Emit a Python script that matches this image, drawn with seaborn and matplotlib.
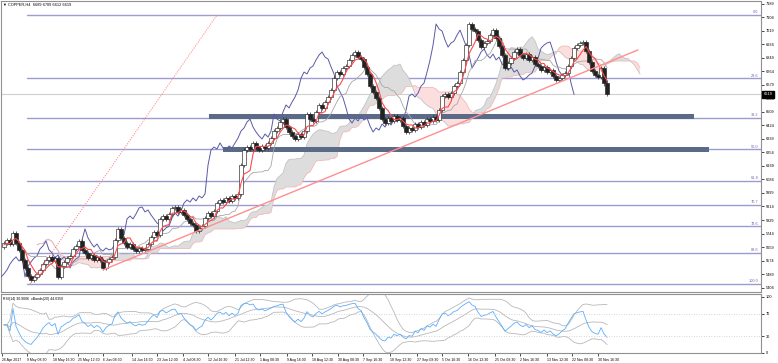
import numpy as np
import pandas as pd
import matplotlib
matplotlib.use("Agg")
import matplotlib.pyplot as plt
import matplotlib.transforms as mtransforms
from matplotlib.patches import Rectangle
import seaborn as sns

sns.set_theme(style="white")
plt.rcParams["font.family"] = ["Liberation Sans", "DejaVu Sans"]

# ---------------- data ----------------
symbol = "COPPER,H4"
last_ohlc = [6689, 6709, 6612, 6619]
first_open = 5660
closes = [
    5685, 5703, 5678, 5747, 5685, 5641, 5578, 5527, 5477, 5452,
    5471, 5490, 5515, 5552, 5578, 5597, 5571, 5590, 5471, 5540,
    5565, 5590, 5603, 5647, 5666, 5697, 5641, 5622, 5590, 5609,
    5578, 5597, 5578, 5527, 5565, 5584, 5597, 5703, 5773, 5716,
    5685, 5659, 5678, 5647, 5634, 5653, 5641, 5647, 5678, 5722,
    5754, 5735, 5836, 5854, 5836, 5867, 5905, 5911, 5880, 5892,
    5861, 5836, 5810, 5798, 5760, 5779, 5791, 5842, 5873, 5854,
    5886, 5936, 5955, 5942, 5968, 5949, 5980, 5968, 5993, 6175,
    6270, 6288, 6276, 6314, 6282, 6270, 6295, 6282, 6314, 6345,
    6389, 6408, 6446, 6464, 6414, 6383, 6358, 6339, 6370, 6351,
    6389, 6496, 6464, 6452, 6509, 6553, 6534, 6571, 6603, 6647,
    6722, 6760, 6748, 6785, 6798, 6836, 6867, 6886, 6854, 6842,
    6792, 6748, 6672, 6634, 6597, 6534, 6464, 6439, 6471, 6452,
    6483, 6458, 6471, 6420, 6383, 6408, 6395, 6433, 6414, 6446,
    6427, 6464, 6452, 6477, 6458, 6521, 6609, 6622, 6603, 6628,
    6672, 6691, 6760, 6836, 6930, 7062, 7031, 7018, 6961, 6917,
    6943, 6955, 6993, 7024, 6974, 6924, 6867, 6785, 6817, 6848,
    6886, 6905, 6867, 6848, 6873, 6836, 6854, 6810, 6798, 6773,
    6792, 6760, 6773, 6735, 6710, 6722, 6741, 6754, 6798, 6848,
    6911, 6930, 6943, 6949, 6892, 6823, 6766, 6741, 6729, 6785,
    6689, 6619,
]
wick = 14

price_ticks = [7189, 7104, 7019, 6934, 6849, 6764, 6679, 6594, 6509, 6424, 6339,
               6254, 6169, 6084, 5999, 5914, 5829, 5744, 5659, 5574, 5489, 5404]

fib_ratios = [0.0, 23.6, 38.2, 50.0, 61.8, 70.7, 78.6, 88.6, 100.0]
fib_high, fib_low = 7119, 5427
fib_start_bar = 7.7

zone_levels = [6483, 6270]
zone_start = [68.3, 73.0]
zone_end = [230.0, 235.0]

trend_bars = [33.0, 211.3]
trend_prices = [5515, 6899]
anchor_bars = [8.7, 71.0]
anchor_prices = [5427, 7119]

date_labels = ["26 Apr 2017", "9 May 08:30", "18 May 16:30", "25 May 12:30", "6 Jun 08:30",
               "14 Jun 16:30", "23 Jun 12:30", "4 Jul 08:30", "12 Jul 16:30", "21 Jul 12:30",
               "1 Aug 08:30", "9 Aug 16:30", "18 Aug 12:30", "30 Aug 08:30", "7 Sep 16:30",
               "18 Sep 12:30", "27 Sep 08:30", "5 Oct 16:30", "16 Oct 12:30", "25 Oct 08:30",
               "2 Nov 16:30", "13 Nov 12:30", "22 Nov 08:30", "30 Nov 16:30"]
date_bars = [-0.7, 7.7, 16.3, 24.7, 33.0, 42.7, 51.0, 59.7, 68.0, 77.0, 85.3, 94.3,
             102.7, 111.3, 119.7, 128.7, 137.7, 146.0, 154.7, 163.7, 172.0, 181.0, 189.3, 198.0]

rsi_ticks = [100, 70, 30, 0]
rsi_levels = [70, 30]
rsi_text = "RSI(14) 30.9006  xBands(20) 44.0350"

# ---------------- derived series ----------------
c = np.array(closes, float)
n = len(c)
idx = np.arange(n)
o = np.r_[first_open, c[:-1]]
hi = np.maximum(o, c) + wick
lo = np.minimum(o, c) - wick
hi[-1] = last_ohlc[1]
lo[-1] = last_ohlc[2]

Hs, Ls = pd.Series(hi), pd.Series(lo)
def mid(p):
    return (Hs.rolling(p, min_periods=1).max() + Ls.rolling(p, min_periods=1).min()) / 2
tenkan = mid(4)
kijun = mid(11)
shift = 11
spanA = ((tenkan + kijun) / 2).values
spanB = mid(22).values
xcloud = idx + shift

delta = np.diff(c, prepend=c[0])
gain = pd.Series(np.clip(delta, 0, None))
loss = pd.Series(np.clip(-delta, 0, None))
ag = gain.ewm(alpha=1 / 9, adjust=False).mean()
al = loss.ewm(alpha=1 / 9, adjust=False).mean()
rsi = (100 - 100 / (1 + ag / al.replace(0, np.nan))).fillna(50)
bmid = rsi.rolling(12, min_periods=1).mean()
bsd = rsi.rolling(12, min_periods=2).std().bfill()
bup = bmid + 2 * bsd
blo = bmid - 2 * bsd

# ---------------- figure ----------------
W, H = 778, 363
FS = 2.8
fig = plt.figure(figsize=(W / 100, H / 100), dpi=100)
def fr(x0, yt, x1, yb):
    return [x0 / W, 1 - yb / H, (x1 - x0) / W, (yb - yt) / H]
ax = fig.add_axes(fr(1, 1, 761, 292))
axr = fig.add_axes(fr(1, 294, 761, 353), sharex=ax)

xmin, xmax = -1.0, 252.3
ax.set_xlim(xmin, xmax)
ax.set_ylim(5376, 7207)

# fib levels
for r in fib_ratios:
    lvl = fib_high - r / 100 * (fib_high - fib_low)
    ax.plot([fib_start_bar, xmax], [lvl, lvl], color="#9c9cd0", lw=1.0, zorder=1)
    ax.text(251.4, lvl + 5, f"{r:.1f}", ha="right", va="bottom", fontsize=FS,
            color="#6a6ab0", zorder=6)

# bid line
ax.axhline(last_ohlc[3], color="#cfcfcf", lw=0.8, zorder=1)

# cloud
ax.fill_between(xcloud, spanA, spanB, where=spanA >= spanB, interpolate=True,
                facecolor="#dddddd", edgecolor="none", zorder=2)
ax.fill_between(xcloud, spanA, spanB, where=spanA < spanB, interpolate=True,
                facecolor="#fcdede", edgecolor="none", zorder=2)
sns.lineplot(x=xcloud, y=spanA, ax=ax, color="#c4c4c4", lw=0.6, estimator=None,
             sort=False, legend=False, zorder=2)
sns.lineplot(x=xcloud, y=spanB, ax=ax, color="#f3b8b8", lw=0.6, estimator=None,
             sort=False, legend=False, zorder=2)

# zones
for lvl, s0, s1 in zip(zone_levels, zone_start, zone_end):
    ax.add_patch(Rectangle((s0, lvl - 16), s1 - s0, 32, facecolor="#5b6b87",
                           edgecolor="none", zorder=3))

# chikou, kijun
sns.lineplot(x=idx - shift, y=c, ax=ax, color="#5a5aa8", lw=0.7, estimator=None,
             sort=False, legend=False, zorder=3)
sns.lineplot(x=idx, y=kijun.values, ax=ax, color="#a8a8a8", lw=0.6, estimator=None,
             sort=False, legend=False, zorder=3)

# candles
up = c >= o
ax.vlines(idx, lo, hi, color="#222222", lw=0.5, zorder=4)
ax.bar(idx[up], (c - o)[up] + 0.01, bottom=o[up], width=1.5, color="white",
       edgecolor="#222222", lw=0.45, zorder=5)
ax.bar(idx[~up], (o - c)[~up], bottom=c[~up], width=1.5, color="#222222",
       edgecolor="#222222", lw=0.45, zorder=5)

sns.lineplot(x=idx, y=tenkan.values, ax=ax, color="#ff4a4a", lw=0.8, estimator=None,
             sort=False, legend=False, zorder=6)

# trendlines
ax.plot(trend_bars, trend_prices, color="#ff8f8f", lw=1.0, zorder=6)
ax.plot(anchor_bars, anchor_prices, color="#ff7070", lw=0.7, ls=(0, (1, 1.5)), zorder=6)

# axes styling
ax.yaxis.tick_right()
ax.set_yticks(price_ticks)
ax.set_yticklabels([str(t) for t in price_ticks])
ax.tick_params(axis="y", length=2, width=0.5, pad=1.5, labelsize=FS, colors="black",
               right=True, left=False)
ax.tick_params(axis="x", bottom=False, labelbottom=False)
ax.set_xlabel("")
ax.set_ylabel("")
for sp in ax.spines.values():
    sp.set_color("#909090")
    sp.set_linewidth(0.8)

trans = mtransforms.blended_transform_factory(ax.transAxes, ax.transData)
ax.text(1.0035, last_ohlc[3], str(last_ohlc[3]), transform=trans, fontsize=FS,
        color="white", ha="left", va="center",
        bbox=dict(facecolor="black", edgecolor="black", pad=0.9), zorder=10, clip_on=False)

fig.text(3 / W, 1 - 5 / H, "\u25bc " + symbol + "  " + " ".join(str(v) for v in last_ohlc),
         fontsize=FS, ha="left", va="center", color="black")

# RSI panel
sns.lineplot(x=idx, y=bup.values, ax=axr, color="#b8b8b8", lw=0.6, estimator=None,
             sort=False, legend=False)
sns.lineplot(x=idx, y=blo.values, ax=axr, color="#b8b8b8", lw=0.6, estimator=None,
             sort=False, legend=False)
sns.lineplot(x=idx, y=bmid.values, ax=axr, color="#b8b8b8", lw=0.6, estimator=None,
             sort=False, legend=False)
sns.lineplot(x=idx, y=rsi.values, ax=axr, color="#5aaeff", lw=0.6, estimator=None,
             sort=False, legend=False)
for lv in rsi_levels:
    axr.axhline(lv, color="#c8c8c8", lw=0.6, ls=(0, (1, 2)))
axr.set_ylim(0, 105)
axr.set_xlim(xmin, xmax)
axr.yaxis.tick_right()
axr.set_yticks(rsi_ticks)
axr.set_yticklabels([str(t) for t in rsi_ticks])
axr.tick_params(axis="y", length=2, width=0.5, pad=1.5, labelsize=FS, colors="black",
                right=True, left=False)
axr.set_xticks(date_bars)
axr.set_xticklabels(date_labels)
axr.tick_params(axis="x", length=2, width=0.5, pad=1.5, labelsize=2.5, colors="black",
                bottom=True)
for lbl in axr.get_xticklabels():
    lbl.set_ha("left")
axr.set_xlabel("")
axr.set_ylabel("")
for sp in axr.spines.values():
    sp.set_color("#909090")
    sp.set_linewidth(0.8)
axr.text(0.003, 0.95, rsi_text, transform=axr.transAxes, fontsize=2.5, ha="left",
         va="top", color="black")

fig.savefig("out.png", dpi=100)
